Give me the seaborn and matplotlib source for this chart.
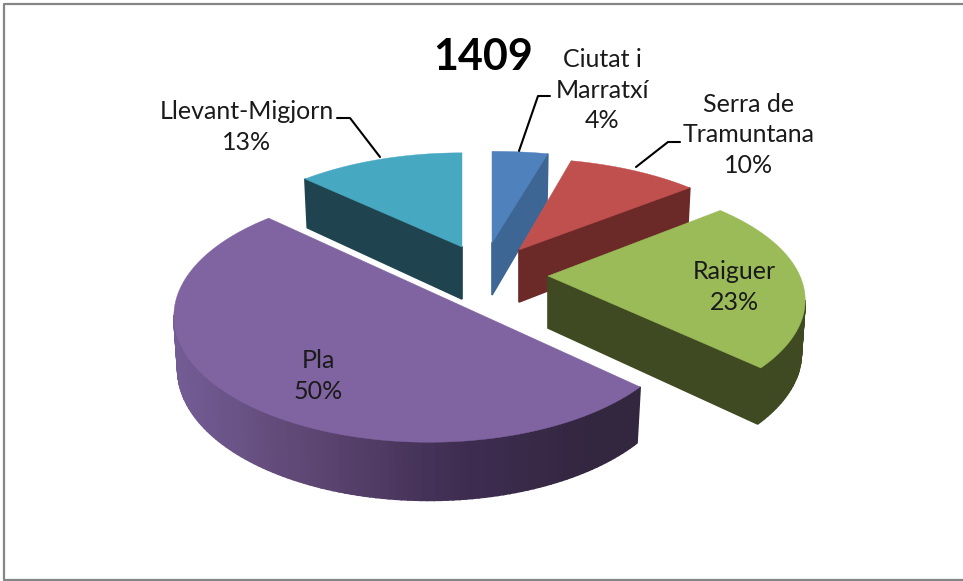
import numpy as np
import pandas as pd
import matplotlib
matplotlib.use('Agg')
import matplotlib.pyplot as plt
import seaborn as sns

title = '1409'
regions = ['Ciutat i\nMarratxí', 'Serra de\nTramuntana', 'Raiguer', 'Pla', 'Llevant-Migjorn']
shares = [4, 10, 23, 50, 13]
top_colors = ['#4f81bd', '#c0504d', '#9bbb59', '#8064a2', '#47a8c2']
wall_colors = ['#3e6695', '#6b2928', '#3f4a22', '#33263f', '#1f4450']

df = pd.DataFrame({'region': regions, 'share': shares})
df['end'] = df['share'].cumsum() / df['share'].sum() * 2 * np.pi
df['start'] = df['end'] - df['share'] / df['share'].sum() * 2 * np.pi

sns.set_theme(style='white')
plt.rcParams['font.family'] = ['Lato', 'DejaVu Sans']

# slice centres and radii in picture pixels, the slices are exploded
centers = [(492, 243), (519, 250), (548, 276), (429, 291), (462, 247)]
radii = [(268, 110), (250, 110), (252, 116), (250, 121), (245, 113)]
depth = 52
persp = 0.2

# label text position, and leader line when the label sits outside
label_pos = [(602, 90), (749, 135), (734, 287), (318, 376), (247, 127)]
leaders = [[(519, 151), (538, 96), (550, 96)],
           [(636, 167), (668, 142), (680, 142)],
           None, None,
           [(380, 157), (350, 118), (337, 118)]]


def project(center, radius, u, v):
    s = 1 / (1 + persp * v)
    x = center[0] + radius[0] * u * s
    y = center[1] - radius[1] * v * s
    drop = depth * np.sqrt(s)
    xb = center[0] + radius[0] * u * s * 0.985
    return (x, y), (xb, y + drop)


fig = plt.figure(figsize=(9.63, 5.81), dpi=100)
ax = fig.add_axes([0, 0, 1, 1])
ax.set_xlim(0, 963)
ax.set_ylim(581, 0)
ax.axis('off')

# frame has no right side in the picture
ax.plot([963, 3.5, 3.5, 963], [4, 4, 580, 580], color='#868686', linewidth=1.6)

purple_ramp = sns.blend_palette(['#735c94', '#5c4570', '#3f2d52', '#33263f'], 101)

# back slices first so the nearer ones cover them
for i in [4, 0, 1, 2, 3]:
    row = df.iloc[i]
    c, r = centers[i], radii[i]
    ts = np.linspace(row['start'], row['end'], max(int(row['share'] * 3), 8))
    rim = [(np.sin(t), np.cos(t)) for t in ts]
    path = [(0, 0)] + rim
    pts = [project(c, r, u, v) for u, v in path]
    top = [p[0] for p in pts]
    bottom = [p[1] for p in pts]
    n = len(pts)
    for j in range(n):
        k = (j + 1) % n
        if top[k][0] >= top[j][0]:
            continue
        if i == 3:
            frac = np.clip(((top[j][0] + top[k][0]) / 2 - 175) / 420, 0, 1)
            color = purple_ramp[int(frac * 100)]
        else:
            color = wall_colors[i]
        ax.fill([top[j][0], top[k][0], bottom[k][0], bottom[j][0]],
                [top[j][1], top[k][1], bottom[k][1], bottom[j][1]],
                color=color, linewidth=1.2)
    ax.fill([p[0] for p in top], [p[1] for p in top], color=top_colors[i], linewidth=0.3)

for i, row in df.iterrows():
    ax.text(label_pos[i][0], label_pos[i][1], f"{row['region']}\n{row['share']}%",
            ha='center', va='center', fontsize=18, color='#1a1a1a', linespacing=1.39)
    if leaders[i] is not None:
        xs, ys = zip(*leaders[i])
        ax.plot(xs, ys, color='black', linewidth=1.5)

ax.text(483, 57, title, ha='center', va='center', fontsize=31, fontweight='bold', color='black')

fig.savefig('out.png', dpi=100)
